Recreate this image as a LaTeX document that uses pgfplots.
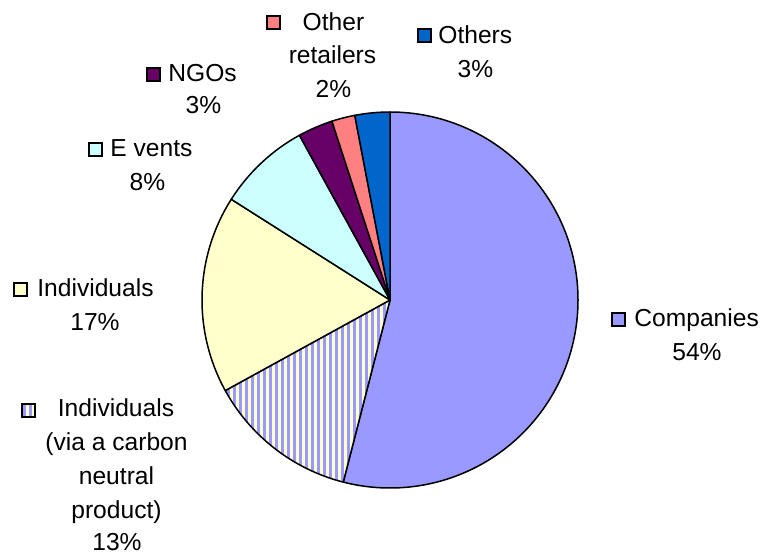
\documentclass[border=0pt]{standalone}
\usepackage{pgfplots}
\pgfplotsset{compat=1.18}
\usetikzlibrary{patterns.meta}
\usepackage{fontspec}
\setmainfont{Liberation Sans}
\definecolor{comp}{HTML}{9999FF}
\definecolor{indiv}{HTML}{FFFFCC}
\definecolor{events}{HTML}{CCFFFF}
\definecolor{ngo}{HTML}{660066}
\definecolor{otherret}{HTML}{FF8080}
\definecolor{others}{HTML}{0066CC}
\tikzset{
  s1/.style={fill=comp},
  s2/.style={preaction={fill=indiv},pattern={Lines[angle=90,distance=3pt,line width=1.5pt]},pattern color=comp},
  s3/.style={fill=indiv},
  s4/.style={fill=events},
  s5/.style={fill=ngo},
  s6/.style={fill=otherret},
  s7/.style={fill=others},
  lab/.style={inner sep=0pt,font=\fontsize{12.3}{17}\selectfont},
  key/.style={draw=black,line width=0.7pt}
}
\begin{document}
\begin{tikzpicture}
\useasboundingbox (0,0) rectangle (382.5pt,276.5pt);
\begin{axis}[
  scale only axis, width=382.5pt, height=276.5pt,
  xmin=0, xmax=765, ymin=0, ymax=553, y dir=reverse,
  hide axis, clip=false]
% pie values (percent), clockwise from 12 o'clock
\pgfplotsextra{
  \def\cum{90}
  \foreach \v/\st in {54/s1,13/s2,17/s3,8/s4,3/s5,2/s6,3/s7}{
    \pgfmathsetmacro\endang{\cum-\v*3.6}
    \draw[\st,draw=black,line width=0.75pt,line join=round]
      (axis cs:390,300) -- ++(\cum:94pt)
      arc[start angle=\cum,end angle=\endang,radius=94pt] -- cycle;
    \xdef\cum{\endang}
  }
}
% keys
\draw[key,s1] (axis cs:612,313) rectangle (axis cs:625,326);
\draw[key,s2] (axis cs:22,404) rectangle (axis cs:35,417);
\draw[key,s3] (axis cs:14,283) rectangle (axis cs:27,296);
\draw[key,s4] (axis cs:89,143) rectangle (axis cs:102,156);
\draw[key,s5] (axis cs:147,68) rectangle (axis cs:160,81);
\draw[key,s6] (axis cs:267,16) rectangle (axis cs:280,29);
\draw[key,s7] (axis cs:418,29) rectangle (axis cs:431,42);
% labels
\node[lab,anchor=base west] at (axis cs:634,326) {Companies};
\node[lab,anchor=base] at (axis cs:697,360) {54\%};
\node[lab,anchor=base] at (axis cs:116,416) {Individuals};
\node[lab,anchor=base] at (axis cs:116.5,450) {(via a carbon};
\node[lab,anchor=base] at (axis cs:116.5,484) {neutral};
\node[lab,anchor=base] at (axis cs:116.5,518) {product)};
\node[lab,anchor=base] at (axis cs:117,550) {13\%};
\node[lab,anchor=base west] at (axis cs:37,296) {Individuals};
\node[lab,anchor=base] at (axis cs:95,330) {17\%};
\node[lab,anchor=base west] at (axis cs:110,156) {E vents};
\node[lab,anchor=base] at (axis cs:147.5,190) {8\%};
\node[lab,anchor=base west] at (axis cs:168,81) {NGOs};
\node[lab,anchor=base] at (axis cs:203.5,113) {3\%};
\node[lab,anchor=base] at (axis cs:333.5,30) {Other};
\node[lab,anchor=base] at (axis cs:332.5,63) {retailers};
\node[lab,anchor=base] at (axis cs:333.5,97) {2\%};
\node[lab,anchor=base west] at (axis cs:438,43) {Others};
\node[lab,anchor=base] at (axis cs:475.5,77) {3\%};
\end{axis}
\end{tikzpicture}
\end{document}
